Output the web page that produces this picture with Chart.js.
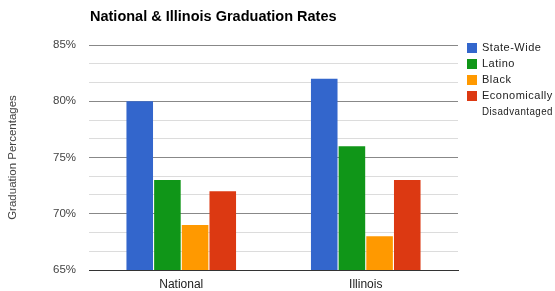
<!DOCTYPE html>
<html><head><meta charset="utf-8">
<script src="https://cdn.jsdelivr.net/npm/chart.js@4.4.1/dist/chart.umd.min.js"></script>
<style>html,body{margin:0;padding:0;background:#fff}#wrap{width:555px;height:291px;position:relative}</style>
</head><body><div id="wrap"><canvas id="c" width="555" height="291"></canvas></div>
<script>
const categories = ["National", "Illinois"];
const seriesNames = ["State-Wide", "Latino", "Black", "Economically Disadvantaged"];
const stateWide = [80, 82];
const latino = [73, 76];
const black = [69, 68];
const econDisadv = [72, 73];
const yMajorTicks = [65, 70, 75, 80, 85];
const chartTitle = "National & Illinois Graduation Rates";
const yAxisTitle = "Graduation Percentages";

const colors = ["#3366cc", "#109618", "#ff9900", "#dc3912"];
const seriesValues = [stateWide, latino, black, econDisadv];
const FONT = "'Liberation Sans', Arial, sans-serif";

const isMajor = v => yMajorTicks.some(t => Math.abs(t - v) < 1e-6);

const drawExtras = {
  id: 'extras',
  afterDraw(chart) {
    const ctx = chart.ctx;
    ctx.save();
    ctx.fillStyle = '#000';
    ctx.font = "bold 14.5px " + FONT;
    ctx.textBaseline = 'alphabetic';
    ctx.textAlign = 'left';
    ctx.fillText(chartTitle, 90, 21);
    // legend
    ctx.font = "11px " + FONT;
    if ('letterSpacing' in ctx) ctx.letterSpacing = '0.5px';
    ctx.textBaseline = 'middle';
    let y = 48;
    chart.data.datasets.forEach((ds, i) => {
      ctx.fillStyle = ds.backgroundColor;
      ctx.fillRect(467, y - 5, 10, 10);
      ctx.fillStyle = '#222';
      const words = ds.label.split(' ');
      words.forEach((w, j) => {
        ctx.fillText(w, 482, y, 71);
        if (j < words.length - 1) y += 16;
      });
      y += 16;
    });
    ctx.restore();
  }
};

new Chart(document.getElementById('c'), {
  type: 'bar',
  data: {
    labels: categories,
    datasets: seriesNames.map((n, i) => ({
      label: n,
      data: seriesValues[i],
      backgroundColor: colors[i],
      borderWidth: 0,
      categoryPercentage: 0.6,
      barPercentage: 0.96
    }))
  },
  plugins: [drawExtras],
  options: {
    responsive: false,
    animation: false,
    layout: { padding: { left: 0, top: 45, right: 97, bottom: 0 } },
    plugins: { legend: { display: false }, title: { display: false }, tooltip: { enabled: false } },
    scales: {
      x: {
        grid: { display: false, drawTicks: false },
        border: { display: true, color: '#333', width: 1 },
        ticks: { color: '#222', font: { family: FONT, size: 12 }, padding: 7 },
        afterFit(s) { s.height = 21; }
      },
      y: {
        min: 65, max: 85,
        afterBuildTicks(s) {
          const t = [];
          for (let i = 0; i < yMajorTicks.length; i++) {
            t.push({ value: yMajorTicks[i] });
            if (i < yMajorTicks.length - 1) {
              const step = (yMajorTicks[i + 1] - yMajorTicks[i]) / 3;
              t.push({ value: yMajorTicks[i] + step });
              t.push({ value: yMajorTicks[i] + 2 * step });
            }
          }
          s.ticks = t;
        },
        ticks: {
          color: '#444', font: { family: FONT, size: 11.5 }, padding: 13, autoSkip: false,
          callback: v => isMajor(v) ? Math.round(v) + '%' : ''
        },
        grid: {
          drawTicks: false,
          color: c => isMajor(c.tick.value) ? (Math.abs(c.tick.value - 65) < 1e-6 ? '#333' : '#888') : '#dcdcdc',
          lineWidth: 1
        },
        border: { display: false },
        title: { display: true, text: yAxisTitle, color: '#444', font: { family: FONT, size: 11.5 }, padding: { top: 6, bottom: 0 } },
        afterFit(s) { s.width = 89; }
      }
    }
  }
});
</script></body></html>
